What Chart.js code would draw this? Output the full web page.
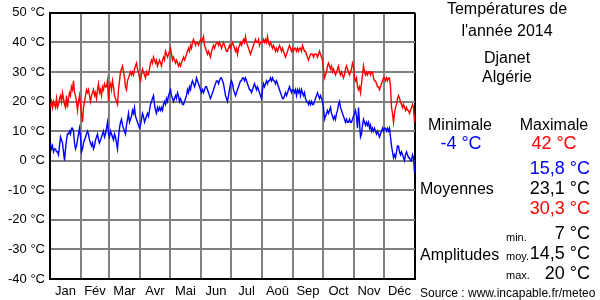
<!DOCTYPE html>
<html>
<head>
<meta charset="utf-8">
<script src="https://cdn.jsdelivr.net/npm/chart.js@4"></script>
<style>
  html, body { margin: 0; padding: 0; background: #fff; }
  #wrap { position: relative; width: 600px; height: 300px; font-family: "Liberation Sans", Arial, sans-serif; }
  .t { position: absolute; line-height: 1; white-space: nowrap; transform: translateY(-50%); }
  .c { transform: translate(-50%, -50%); }
  .r { transform: translate(-100%, -50%); }
</style>
</head>
<body>
<div id="wrap">
  <canvas id="tempChart" width="600" height="300"></canvas>

  <div class="t c" style="left:507px; top:9px; font-size:16px;">Températures de</div>
  <div class="t c" style="left:507px; top:31px; font-size:16px;">l'année 2014</div>
  <div class="t c" style="left:507px; top:58px; font-size:16px;">Djanet</div>
  <div class="t c" style="left:507px; top:77px; font-size:16px;">Algérie</div>

  <div class="t c" style="left:460px; top:125px; font-size:16px;">Minimale</div>
  <div class="t c" style="left:554px; top:125px; font-size:16px;">Maximale</div>
  <div class="t c" style="left:461px; top:143px; font-size:18px; color:#0000ff;">-4 °C</div>
  <div class="t c" style="left:554px; top:143px; font-size:18px; color:#ff0000;">42 °C</div>

  <div class="t r" style="left:590px; top:168px; font-size:18px; color:#0000ff;">15,8 °C</div>
  <div class="t" style="left:420px; top:189px; font-size:16px;">Moyennes</div>
  <div class="t r" style="left:590px; top:188px; font-size:18px;">23,1 °C</div>
  <div class="t r" style="left:590px; top:208px; font-size:18px; color:#ff0000;">30,3 °C</div>

  <div class="t" style="left:506px; top:237px; font-size:11px;">min.</div>
  <div class="t r" style="left:590px; top:233px; font-size:18px;">7 °C</div>
  <div class="t" style="left:420px; top:255px; font-size:16px;">Amplitudes</div>
  <div class="t" style="left:506px; top:256px; font-size:11px;">moy.</div>
  <div class="t r" style="left:590px; top:253px; font-size:18px;">14,5 °C</div>
  <div class="t" style="left:506px; top:275px; font-size:11px;">max.</div>
  <div class="t r" style="left:590px; top:273px; font-size:18px;">20 °C</div>

  <div class="t" style="left:420px; top:293px; font-size:12px;">Source : www.incapable.fr/meteo</div>
</div>

<script>
// month names shown under the axis
const months = ['Jan', 'Fév', 'Mar', 'Avr', 'Mai', 'Jun', 'Jul', 'Aoû', 'Sep', 'Oct', 'Nov', 'Déc'];
const monthDays = [31, 28, 31, 30, 31, 30, 31, 31, 30, 31, 30, 31];

// daily maximum temperatures (°C), one array per month
const maxJan = [18,20,18,20,19,18,21,18,19,21,22,20,23,21,19,18,22,18,21,23,22,25,24,27,23,22,20,17,20,22,19];
const maxFeb = [16,13,18,20,22,24,23,24,22,20,22,23,24,22,23,21,24,26,23,24,22,25,24,26,25,25,27,20];
const maxMar = [25,26,24,27,25,22,21,20,19,24,27,30,31,32,30,28,25,24,27,28,29,30,29,30,29,31,32,33,31,30,28];
const maxApr = [27,29,31,30,29,28,30,29,29,31,33,34,33,35,34,33,34,32,33,34,33,32,34,35,34,37,36,35,36,37];
const maxMay = [38,36,34,35,34,33,34,33,32,33,32,33,34,35,34,35,36,37,38,37,39,38,40,41,40,39,40,40,39,40,41];
const maxJun = [40,41,42,39,38,37,36,37,36,35,37,38,39,38,39,40,40,39,40,39,38,39,40,39,38,37,37,38,39,38];
const maxJul = [39,40,39,38,37,38,36,38,39,40,39,40,41,40,42,40,39,38,37,36,37,38,39,40,41,40,40,41,39,40,40];
const maxAug = [40,41,40,41,40,42,40,39,40,39,38,39,38,37,38,37,38,39,38,37,38,37,36,35,36,37,38,39,38,37,38];
const maxSep = [37,38,38,37,38,37,38,38,37,39,38,37,37,36,35,34,35,36,36,36,35,36,36,36,35,36,37,36,35,34];
const maxOct = [31,28,29,30,32,33,32,31,32,30,31,30,29,30,31,32,30,29,30,29,28,29,31,32,31,30,29,30,31,33,32];
const maxNov = [28,27,28,25,24,25,23,26,29,32,30,29,30,29,30,30,29,30,30,28,27,27,26,25,25,24,25,26,27,28];
const maxDec = [28,27,28,27,28,28,25,18,16,13,16,18,19,21,22,21,20,19,18,19,18,17,18,17,17,16,17,18,19,18,13];

// daily minimum temperatures (°C)
const minJan = [6,4,5,3,4,4,3,3,2,5,8,7,6,3,0,4,7,9,9,10,9,11,11,10,6,4,5,7,9,11,8];
const minFeb = [3,4,6,7,8,9,10,9,7,6,5,6,4,5,7,8,9,7,6,7,8,9,10,8,9,11,13,9];
const minMar = [8,10,9,8,7,9,8,6,4,8,11,13,14,12,11,10,9,12,14,16,13,14,15,17,16,18,15,14,13,12,11];
const minApr = [12,14,16,15,13,14,15,16,15,17,19,20,21,22,19,17,16,18,17,18,17,18,17,19,20,19,21,20,22,23];
const minMay = [24,22,21,20,21,22,21,23,22,20,21,20,19,19,20,21,22,24,23,25,24,26,27,26,25,26,28,27,26,25,24];
const minJun = [23,24,23,24,25,25,24,23,22,21,22,23,24,25,26,27,27,26,27,28,28,27,26,24,22,21,20,22,24,26];
const minJul = [27,26,24,23,22,23,24,25,26,27,27,28,28,27,28,27,26,25,24,24,23,24,25,26,25,24,25,24,23,22,21];
const minAug = [24,26,25,26,27,26,27,27,28,27,28,27,27,26,27,26,25,24,23,22,21,21,22,23,22,23,24,25,24,23,24];
const minSep = [24,23,24,22,24,23,24,22,24,23,22,23,21,20,20,19,20,19,20,19,19,20,21,22,23,22,21,22,21,20];
const minOct = [18,14,15,16,17,16,17,18,16,15,14,15,14,16,17,19,20,18,17,16,15,14,13,14,13,13,14,13,13,14,15];
const minNov = [16,17,15,11,18,13,8,9,12,14,13,12,13,12,13,11,12,10,11,10,11,10,9,10,9,8,9,10,11,10];
const minDec = [11,11,10,11,10,11,8,5,3,1,2,1,3,5,5,3,2,3,2,1,0,2,3,2,1,1,0,0,2,1,-4];

const yTicks = [-40, -30, -20, -10, 0, 10, 20, 30, 40, 50];

const maxTemps = [].concat(maxJan, maxFeb, maxMar, maxApr, maxMay, maxJun, maxJul, maxAug, maxSep, maxOct, maxNov, maxDec);
const minTemps = [].concat(minJan, minFeb, minMar, minApr, minMay, minJun, minJul, minAug, minSep, minOct, minNov, minDec);

// month boundaries (grid lines) and month middles (labels)
const bounds = [0];
const mids = {};
monthDays.forEach((n, i) => {
    const start = bounds[bounds.length - 1];
    mids[start + n / 2] = months[i];
    bounds.push(start + n);
});
const xTickValues = bounds.concat(Object.keys(mids).map(Number)).sort((a, b) => a - b);

const toPoints = arr => arr.map((v, i) => ({ x: i + 0.5, y: v }));
const font = { family: '"Liberation Sans", Arial, sans-serif', size: 13 };

const ctx = document.getElementById('tempChart').getContext('2d');
new Chart(ctx, {
    type: 'line',
    data: {
        datasets: [
            {
                label: 'Maximale',
                data: toPoints(maxTemps),
                borderColor: '#ff0000',
                borderWidth: 1.4,
                pointRadius: 0,
                tension: 0
            },
            {
                label: 'Minimale',
                data: toPoints(minTemps),
                borderColor: '#0000ff',
                borderWidth: 1.4,
                pointRadius: 0,
                tension: 0
            }
        ]
    },
    options: {
        responsive: false,
        animation: false,
        layout: { padding: { top: 10, right: 185, left: 0, bottom: 0 } },
        plugins: {
            legend: { display: false },
            tooltip: { enabled: false }
        },
        scales: {
            x: {
                type: 'linear',
                min: 0,
                max: 365,
                afterBuildTicks: scale => {
                    scale.ticks = xTickValues.map(v => ({ value: v }));
                },
                afterFit: scale => { scale.height = 21; },
                ticks: {
                    autoSkip: false,
                    maxRotation: 0,
                    color: '#000',
                    font: font,
                    padding: 5,
                    callback: value => mids[value] || ''
                },
                grid: {
                    drawTicks: false,
                    lineWidth: 2,
                    color: c => {
                        const v = c.tick ? c.tick.value : null;
                        if (v === 365) return '#000';
                        return bounds.includes(v) ? '#808080' : 'rgba(0,0,0,0)';
                    }
                },
                border: { color: '#000', width: 2 }
            },
            y: {
                min: -40,
                max: 50,
                afterBuildTicks: scale => {
                    scale.ticks = yTicks.map(v => ({ value: v }));
                },
                afterFit: scale => { scale.width = 50; },
                ticks: {
                    color: '#000',
                    font: font,
                    padding: 5,
                    callback: value => value + ' °C'
                },
                grid: {
                    drawTicks: false,
                    lineWidth: 2,
                    color: c => (c.tick && c.tick.value === 50) ? '#000' : '#808080'
                },
                border: { color: '#000', width: 2 }
            }
        }
    }
});
</script>
</body>
</html>
